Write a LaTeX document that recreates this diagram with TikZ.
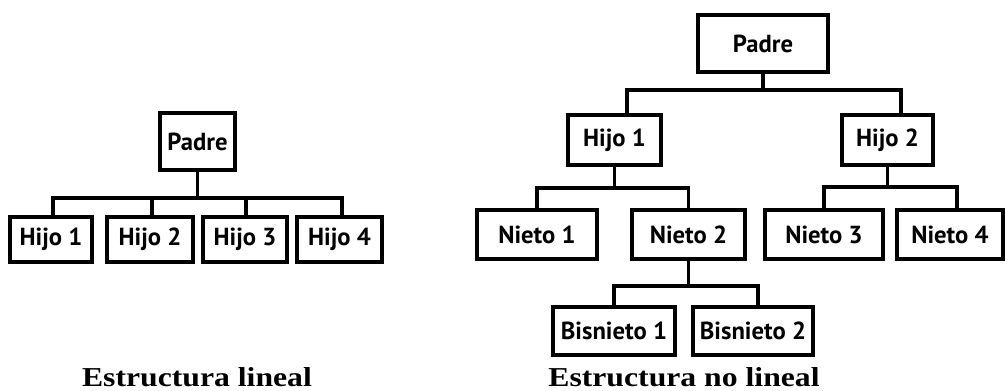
\documentclass[tikz,border=0pt]{standalone}
\usepackage{fontspec}
\setmainfont{Liberation Serif}
\newfontfamily\boxfont{PT Sans}
\newfontfamily\capfont[FakeStretch=1.16]{Liberation Serif}
\begin{document}
\begin{tikzpicture}[x=0.75pt,y=-0.75pt,
  box/.style={draw,line width=2.6pt,inner sep=0pt,font=\boxfont\bfseries\fontsize{18.5}{20}\selectfont},
  conn/.style={line width=2.6pt},
  captionstyle/.style={font=\capfont\bfseries\fontsize{20.5}{22}\selectfont}]
\path[use as bounding box] (0,0) rectangle (1005,391);
% ---------- left tree ----------
\node[box,minimum width=56.25pt,minimum height=42.75pt] (LP) at (197.5,141.5) {Padre};
\node[box,minimum width=61.5pt,minimum height=33.75pt] (L1) at (51,239.5) {Hijo 1};
\node[box,minimum width=64.5pt,minimum height=33.75pt] (L2) at (150,239.5) {Hijo 2};
\node[box,minimum width=63pt,minimum height=33.75pt] (L3) at (245,239.5) {Hijo 3};
\node[box,minimum width=63.75pt,minimum height=33.75pt] (L4) at (339.5,239.5) {Hijo 4};
\coordinate (lb) at (LP.south |- 0,198);
\draw[conn] (LP.south) -- (lb);
\draw[conn] (lb) -| ([xshift=1.5pt]L1.north);
\draw[conn] (lb) -| ([xshift=1.5pt]L2.north);
\draw[conn] (lb) -| ([xshift=0.75pt]L3.north);
\draw[conn] (lb) -| ([xshift=1.9pt]L4.north);
% ---------- right tree ----------
\node[box,minimum width=97.5pt,minimum height=42.75pt] (RP) at (763,43.5) {Padre};
\node[box,minimum width=69.75pt,minimum height=37.5pt] (H1) at (614.5,140) {Hijo 1};
\node[box,minimum width=68.25pt,minimum height=37.5pt] (H2) at (887.5,140) {Hijo 2};
\node[box,minimum width=90pt,minimum height=36.75pt] (N1) at (537,234.5) {Nieto 1};
\node[box,minimum width=84.75pt,minimum height=36.75pt] (N2) at (688.5,234.5) {Nieto 2};
\node[box,minimum width=88.5pt,minimum height=36.75pt] (N3) at (824,234.5) {Nieto 3};
\node[box,minimum width=79.5pt,minimum height=36.75pt] (N4) at (950,234.5) {Nieto 4};
\node[box,minimum width=91.5pt,minimum height=36pt] (B1) at (614,331) {Bisnieto 1};
\node[box,minimum width=90pt,minimum height=36pt] (B2) at (753,331) {Bisnieto 2};
\coordinate (rb) at (RP.south |- 0,90);
\draw[conn] (RP.south) -- (rb);
\draw[conn] (rb) -| ([xshift=9.4pt]H1.north);
\draw[conn] (rb) -| ([xshift=10.1pt]H2.north);
\coordinate (h1b) at (H1.south |- 0,188);
\draw[conn] (H1.south) -- (h1b);
\draw[conn] (h1b) -| (N1.north);
\draw[conn] (h1b) -| (N2.north);
\coordinate (h2b) at (H2.south |- 0,187);
\draw[conn] (H2.south) -- (h2b);
\draw[conn] (h2b) -| (N3.north);
\draw[conn] (h2b) -| ([xshift=5.25pt]N4.north);
\coordinate (n2b) at (N2.south |- 0,286);
\draw[conn] (N2.south) -- (n2b);
\draw[conn] (n2b) -| (B1.north);
\draw[conn] (n2b) -| ([xshift=3.75pt]B2.north);
% ---------- captions ----------
\node[captionstyle] (c1) at (197,377) {Estructura lineal};
\node[captionstyle] (c2) at (684,377) {Estructura no lineal};
\end{tikzpicture}
\end{document}
